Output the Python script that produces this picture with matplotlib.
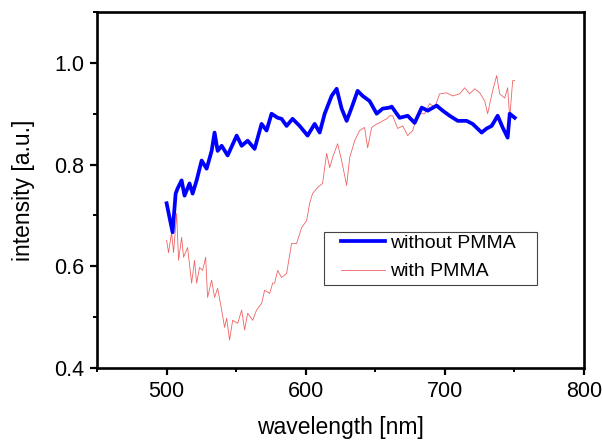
import matplotlib
matplotlib.use("Agg")
import matplotlib.pyplot as plt
from matplotlib.patches import Rectangle
from matplotlib.ticker import MultipleLocator

plt.rcParams['font.family'] = ['Liberation Sans', 'DejaVu Sans']

# ---- data ----
wl_without = [500.0, 504.3, 506.5, 507.9, 510.8, 512.9, 516.5, 518.7, 521.6, 525.2,
              528.8, 532.4, 534.5, 536.7, 539.6, 543.9, 550.4, 554.0, 558.3, 563.3,
              568.3, 571.9, 575.5, 579.9, 582.7, 586.3, 590.6, 595.7, 601.4, 606.5,
              610.1, 613.7, 618.7, 622.3, 625.9, 629.5, 633.1, 637.4, 641.0, 646.0,
              651.1, 655.4, 660.4, 661.9, 667.6, 673.4, 678.4, 683.5, 687.8, 694.2,
              698.6, 703.6, 709.4, 715.8, 720.1, 726.6, 730.2, 733.8, 738.1, 741.7,
              745.3, 746.8, 750.4]
int_without = [0.724, 0.667, 0.743, 0.753, 0.769, 0.739, 0.763, 0.743, 0.769, 0.808,
               0.792, 0.827, 0.863, 0.827, 0.837, 0.818, 0.857, 0.837, 0.847, 0.831,
               0.880, 0.867, 0.900, 0.892, 0.890, 0.876, 0.890, 0.876, 0.857, 0.880,
               0.863, 0.900, 0.935, 0.949, 0.910, 0.886, 0.912, 0.945, 0.935, 0.925,
               0.900, 0.910, 0.912, 0.914, 0.892, 0.896, 0.882, 0.912, 0.906, 0.916,
               0.906, 0.896, 0.886, 0.886, 0.880, 0.863, 0.871, 0.876, 0.896, 0.873,
               0.853, 0.900, 0.892]

wl_with = [500.0, 501.4, 503.6, 505.0, 507.2, 508.6, 510.8, 512.2, 515.1, 518.0,
           520.1, 521.6, 523.7, 525.9, 528.1, 529.5, 532.4, 534.5, 536.7, 539.6,
           541.7, 543.2, 545.3, 547.5, 551.1, 554.0, 556.1, 558.3, 561.9, 564.7,
           568.3, 570.5, 574.1, 576.3, 577.7, 579.9, 582.7, 586.3, 589.9, 593.5,
           597.1, 600.7, 602.9, 605.0, 608.6, 612.2, 615.1, 617.3, 619.4, 623.0,
           625.9, 629.5, 631.7, 635.3, 638.8, 642.4, 644.6, 647.5, 651.1, 653.2,
           655.4, 658.3, 660.4, 662.6, 666.2, 669.8, 673.4, 677.0, 680.6, 685.6,
           689.2, 692.8, 696.4, 701.4, 705.8, 710.8, 714.4, 718.0, 721.6, 725.2,
           728.8, 730.9, 734.5, 737.4, 739.6, 743.2, 745.3, 746.8, 748.9, 750.4]
int_with = [0.651, 0.627, 0.667, 0.627, 0.704, 0.612, 0.657, 0.618, 0.637, 0.567,
            0.612, 0.567, 0.598, 0.592, 0.618, 0.539, 0.573, 0.539, 0.557, 0.514,
            0.480, 0.498, 0.455, 0.494, 0.488, 0.514, 0.475, 0.508, 0.494, 0.514,
            0.527, 0.553, 0.547, 0.567, 0.567, 0.592, 0.578, 0.586, 0.645, 0.645,
            0.676, 0.690, 0.724, 0.743, 0.755, 0.763, 0.822, 0.794, 0.814, 0.841,
            0.808, 0.759, 0.814, 0.847, 0.867, 0.873, 0.833, 0.873, 0.880, 0.882,
            0.886, 0.890, 0.896, 0.896, 0.871, 0.876, 0.857, 0.867, 0.900, 0.900,
            0.920, 0.912, 0.939, 0.941, 0.935, 0.939, 0.951, 0.939, 0.949, 0.941,
            0.925, 0.900, 0.945, 0.975, 0.939, 0.931, 0.951, 0.892, 0.965, 0.965]

fig = plt.figure(figsize=(6.03, 4.43), dpi=100)
ax = fig.add_axes([0.161, 0.169, 0.807, 0.804])

ax.plot(wl_without, int_without, color='#0000ff', lw=2.7, label='without PMMA', zorder=3)
ax.plot(wl_with, int_with, color='#ef6464', lw=0.6, label='with PMMA', zorder=2)

ax.set_xlim(450, 800)
ax.set_ylim(0.4, 1.1)
ax.set_xticks([500, 600, 700, 800])
ax.set_yticks([0.4, 0.6, 0.8, 1.0])
ax.xaxis.set_minor_locator(MultipleLocator(50))
ax.yaxis.set_minor_locator(MultipleLocator(0.1))

for s in ax.spines.values():
    s.set_linewidth(1.9)
ax.tick_params(which='major', direction='out', length=5, width=1.6, labelsize=15.5, pad=4)
ax.tick_params(which='minor', direction='out', length=3, width=1.4)
ax.tick_params(which='both', top=False, right=False)

ax.set_xlabel('wavelength [nm]', fontsize=16.5, labelpad=10)
ax.set_ylabel('intensity [a.u.]', fontsize=16.5, labelpad=14)

# legend: entries without frame, box drawn separately to get the wider side margins
leg = ax.legend(loc='center left', bbox_to_anchor=(0.501, 0.311), fontsize=14,
                frameon=False, handlelength=2.27, handletextpad=0.26,
                borderpad=0, labelspacing=0.56, borderaxespad=0)
ax.add_patch(Rectangle((0.466, 0.2325), 0.437, 0.1485, transform=ax.transAxes,
                       fill=False, edgecolor='#444444', lw=0.8, zorder=5))

fig.savefig('out.png', dpi=100)
